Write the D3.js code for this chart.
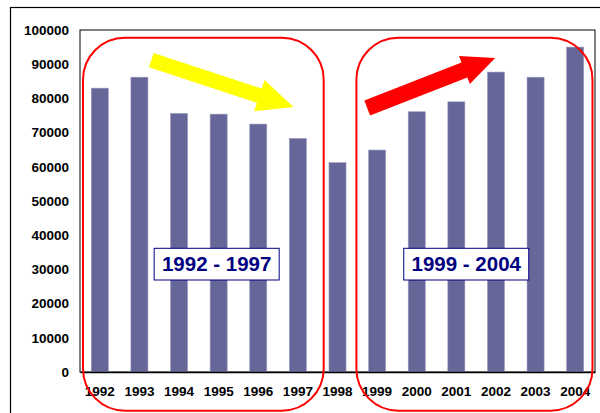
<!DOCTYPE html>
<html>
<head>
<meta charset="utf-8">
<script src="https://cdn.jsdelivr.net/npm/d3@7/dist/d3.min.js"></script>
<style>
  html, body { margin: 0; padding: 0; background: #fff; }
  svg { display: block; }
</style>
</head>
<body>
<svg id="chart" width="600" height="413"></svg>
<script>
const years = ["1992","1993","1994","1995","1996","1997","1998","1999","2000","2001","2002","2003","2004"];
const values = [83000, 86200, 75600, 75400, 72500, 68300, 61200, 64900, 76100, 79000, 87700, 86200, 95000];
const yTicks = [0,10000,20000,30000,40000,50000,60000,70000,80000,90000,100000];
const groupLabels = ["1992 - 1997", "1999 - 2004"];
const groupRanges = [["1992","1997"], ["1999","2004"]];

const W = 600, H = 413;
const plot = {left: 80, right: 595, top: 30, bottom: 372};
const svg = d3.select("#chart");

const x = d3.scaleBand().domain(years).range([plot.left, plot.right]).paddingInner(0.57).paddingOuter(0.285);
const y = d3.scaleLinear().domain([0, 100000]).range([plot.bottom, plot.top]);
const step = x.step();
const cx = i => x(years[0]) + x.bandwidth()/2 + i * step;

// outer frame
svg.append("rect").attr("x", 10.5).attr("y", 7.5).attr("width", 640).attr("height", 440)
  .attr("fill", "none").attr("stroke", "#000").attr("stroke-width", 1.2);

// plot frame
svg.append("rect").attr("x", plot.left).attr("y", plot.top)
  .attr("width", plot.right - plot.left).attr("height", plot.bottom - plot.top)
  .attr("fill", "none").attr("stroke", "#000").attr("stroke-width", 1);

// bars
svg.append("g").selectAll("rect").data(years).join("rect")
  .attr("x", d => x(d)).attr("width", x.bandwidth())
  .attr("y", (d,i) => y(values[i])).attr("height", (d,i) => y(0) - y(values[i]))
  .attr("fill", "#666699").attr("stroke", "#9a9abf").attr("stroke-width", 0.6);

// y axis
const yAxis = d3.axisLeft(y).tickValues(yTicks).tickSize(0).tickPadding(11).tickFormat(d3.format("d"));
const ya = svg.append("g").attr("transform", `translate(${plot.left},0)`).call(yAxis);
ya.select(".domain").remove();
ya.selectAll("text").attr("font-family", "Liberation Sans, Arial, sans-serif")
  .attr("font-weight", "bold").attr("font-size", "13.5px").attr("fill", "#000");

// x axis
const xAxis = d3.axisBottom(x).tickSize(0).tickPadding(14);
const xa = svg.append("g").attr("transform", `translate(0,${plot.bottom})`).call(xAxis);
xa.select(".domain").attr("stroke", "#000").attr("stroke-width", 1.6);
xa.selectAll("text").attr("font-family", "Liberation Sans, Arial, sans-serif")
  .attr("font-weight", "bold").attr("font-size", "13.5px").attr("fill", "#000");

// label boxes
const boxCenters = [cx(2.95), cx(9.25)];
groupLabels.forEach((lab, k) => {
  const bx = boxCenters[k], by = 264;
  svg.append("rect").attr("x", bx - 62.5).attr("y", by - 15.7).attr("width", 125).attr("height", 31.7)
    .attr("fill", "#fff").attr("stroke", "#000080").attr("stroke-width", 1);
  svg.append("text").attr("x", bx).attr("y", by).attr("dy", "0.36em")
    .attr("text-anchor", "middle").attr("font-family", "Liberation Sans, Arial, sans-serif")
    .attr("font-weight", "bold").attr("font-size", "20.5px").attr("fill", "#000080").text(lab);
});

// arrows
function arrow(t, h, shaftW, headW, headL, color) {
  const x0 = cx(t[0]), y0 = y(t[1]), x1 = cx(h[0]), y1 = y(h[1]);
  const dx = x1 - x0, dy = y1 - y0, L = Math.hypot(dx, dy);
  const ux = dx / L, uy = dy / L, nx = -uy, ny = ux;
  const bx = x1 - ux * headL, by = y1 - uy * headL;
  const pts = [
    [x0 + nx*shaftW/2, y0 + ny*shaftW/2],
    [bx + nx*shaftW/2, by + ny*shaftW/2],
    [bx + nx*headW/2, by + ny*headW/2],
    [x1, y1],
    [bx - nx*headW/2, by - ny*headW/2],
    [bx - nx*shaftW/2, by - ny*shaftW/2],
    [x0 - nx*shaftW/2, y0 - ny*shaftW/2]
  ];
  svg.append("polygon").attr("points", pts.map(p => p.join(",")).join(" ")).attr("fill", color);
}
arrow([1.30, 91200], [4.89, 77500], 15, 33, 36, "#ffff00");
arrow([6.75, 77200], [9.98, 91800], 16, 30, 33, "#ff0000");

// rounded group frames
const frames = [
  [x(groupRanges[0][0]) + x.bandwidth()/2 - 16.8, x(groupRanges[0][1]) + x.bandwidth()/2 + 25.8],
  [x(groupRanges[1][0]) + x.bandwidth()/2 - 20.7, x(groupRanges[1][1]) + x.bandwidth()/2 + 17.3]
];
frames.forEach(([l, r]) => {
  svg.append("rect").attr("x", l).attr("y", 37.7).attr("width", r - l).attr("height", 373)
    .attr("rx", 42).attr("ry", 42).attr("fill", "none").attr("stroke", "#ff0000").attr("stroke-width", 2);
});
</script>
</body>
</html>
